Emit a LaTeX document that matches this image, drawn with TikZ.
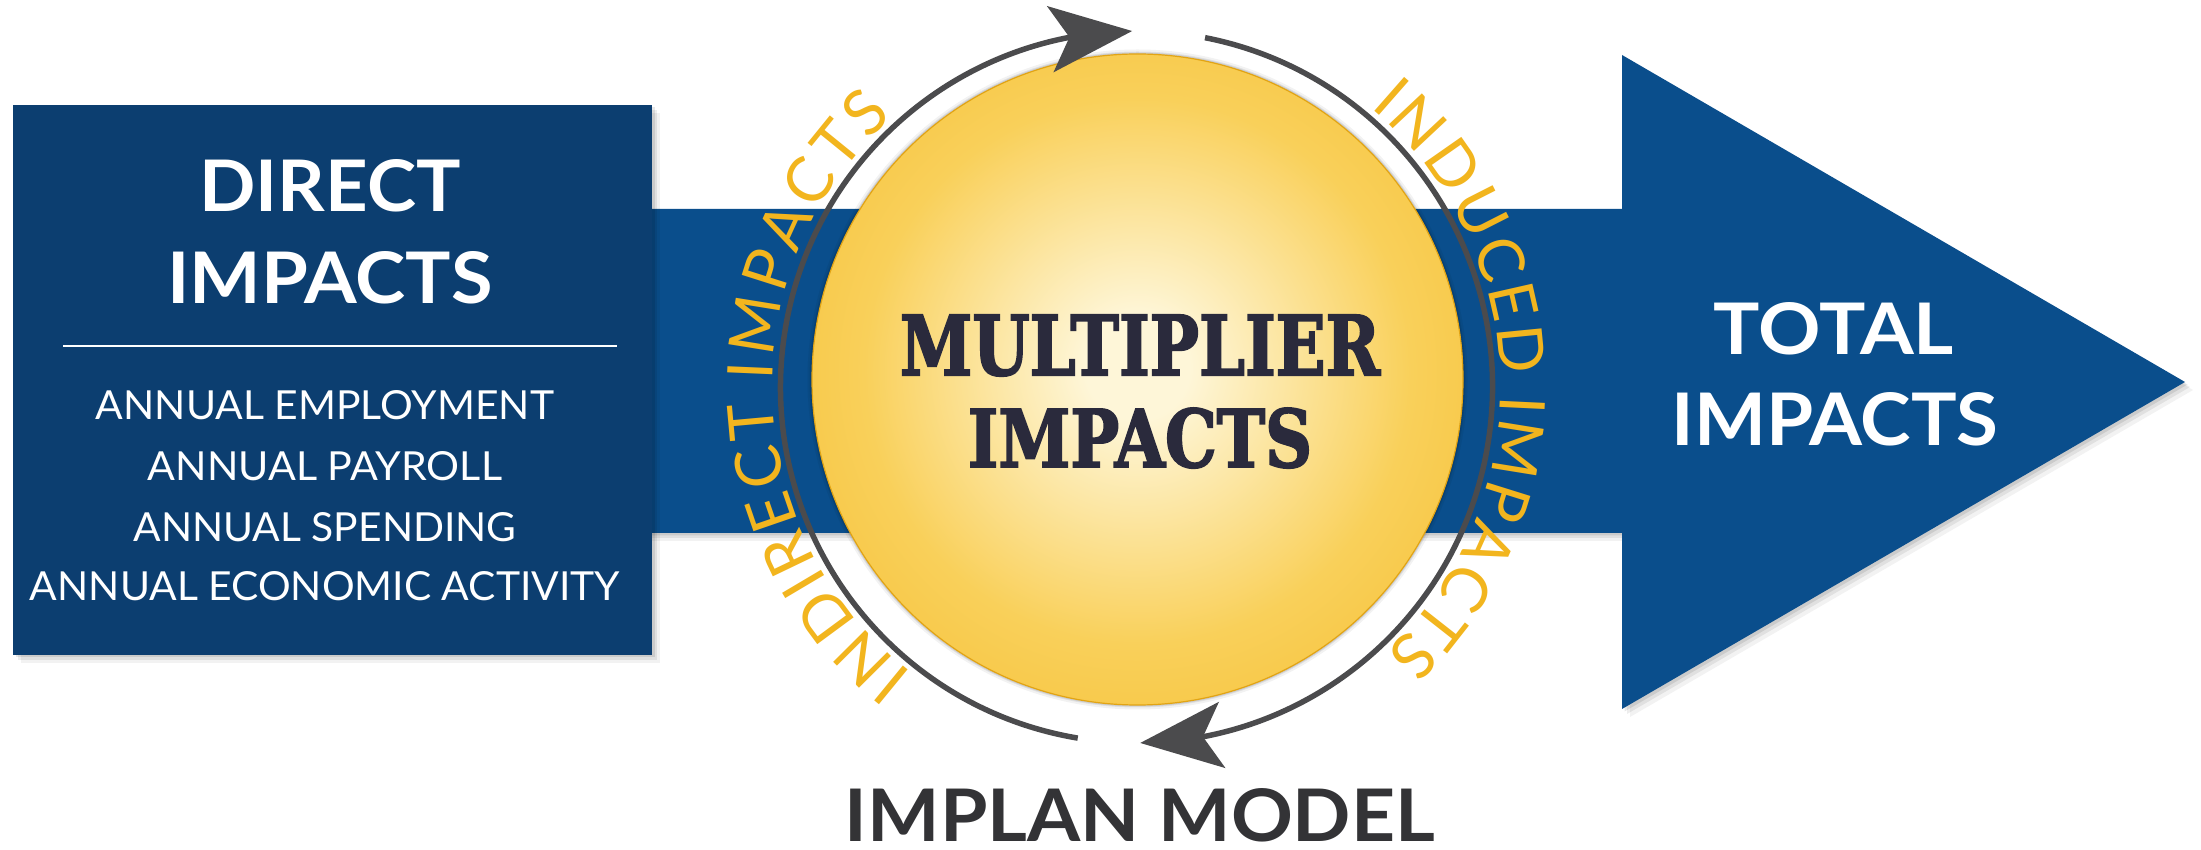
\documentclass[tikz,border=0pt]{standalone}
\usepackage{fontspec}
\newfontfamily\lato{Lato}
\newfontfamily\slab[BoldFeatures={FakeBold=2.5}]{DejaVu Serif}
\usetikzlibrary{arrows.meta,bending,decorations.text}
\definecolor{boxnavy}{HTML}{0C3E70}
\definecolor{arrowblue}{HTML}{0A4E8C}
\definecolor{ringgray}{HTML}{4B4B4D}
\definecolor{ringgold}{HTML}{F2B51E}
\definecolor{slabink}{HTML}{2A2A3C}
\definecolor{modelink}{HTML}{333336}
\definecolor{ballin}{HTML}{FEF6D8}
\definecolor{ballmid}{HTML}{F9D05A}
\definecolor{ballout}{HTML}{F4B824}
\definecolor{balledge}{HTML}{E2A414}
\pgfdeclareradialshading{ballshade}{\pgfpoint{0bp}{1bp}}{color(0bp)=(ballin); color(4bp)=(ballin); color(21bp)=(ballmid); color(40bp)=(ballout); color(62bp)=(ballout)}
\begin{document}
\begin{tikzpicture}[x=1pt,y=1pt,
  lbl/.style={inner sep=0pt, anchor=base},
  ringline/.style={draw=ringgray, line width=5.5pt},
  ringhead/.style={-{Stealth[length=82pt,width=66pt,inset=19pt]}},
  ringtext/.style={font={\lato\fontsize{63pt}{70pt}\selectfont}}]
\useasboundingbox (0,0) rectangle (2201,849);
\fill[white] (0,0) rectangle (2201,849);
\coordinate (ringc) at (1136.5,462);
\coordinate (ctr) at (1137.5,469.5);
% arrow shadow
\foreach \s/\o in {8/0.05,5/0.07,2.5/0.09}
  \fill[black,opacity=\o,xshift=\s pt,yshift=-\s pt] (640,316) -- (1622,316) -- (1622,140) -- (2185,467) -- (1622,794) -- (1622,640) -- (640,640) -- cycle;
% big arrow
\fill[arrowblue] (640,316) -- (1622,316) -- (1622,140) -- (2185,467) -- (1622,794) -- (1622,640) -- (640,640) -- cycle;
% box shadow
\foreach \s/\o in {8/0.05,5/0.07,2.5/0.09}
  \fill[black,opacity=\o,xshift=\s pt,yshift=-\s pt] (13,194) rectangle (652,744);
\node[fill=boxnavy, inner sep=0pt, minimum width=639pt, minimum height=550pt, anchor=south west] (direct) at (13,194) {};
% circle shadow
\foreach \s/\r/\o in {10/330/0.05,7/328/0.07,4/327/0.09}
  \fill[black,opacity=\o,xshift=0.6*\s pt,yshift=-\s pt] (ctr) circle[radius=\r];
\node[circle, inner sep=0pt, minimum size=651pt, shade, shading=ballshade, draw=balledge, line width=1.2pt] (mult) at (ctr) {};
% ring
\draw[ringline, ringhead] ([shift={(260.5:356)}]ringc) arc[start angle=260.5, end angle=90.7, radius=356];
\draw[ringline, ringhead] ([shift={(78.9:356)}]ringc) arc[start angle=78.9, end angle=-89.4, radius=356];
% ring texts
\path[ringtext, decoration={text effects along path, text={INDIRECT IMPACTS},
  text effects/.cd, text along path, fit text to path, characters={text=ringgold}}, decorate]
  ([shift={(232:364)}]ringc) arc[start angle=232, end angle=132, radius=364];
\path[ringtext, decoration={text effects along path, text={INDUCED IMPACTS},
  text effects/.cd, text along path, fit text to path, characters={text=ringgold}}, decorate]
  ([shift={(50.1:364)}]ringc) arc[start angle=50.1, end angle=-46.9, radius=364];
% direct impacts texts
\node[lbl, text=white] (dir1) at (330,637) {\resizebox{261pt}{52pt}{\lato\bfseries DIRECT}};
\node[lbl, text=white] (dir2) at (330,545) {\resizebox{325pt}{52pt}{\lato\bfseries IMPACTS}};
\coordinate (divL) at (63,503);
\coordinate (divR) at (617,503);
\draw[white, line width=2pt] (divL) -- (divR);
\node[lbl, text=white] (it1) at (325,429) {\resizebox{458pt}{29pt}{\lato ANNUAL EMPLOYMENT}};
\node[lbl, text=white] (it2) at (325,368) {\resizebox{354pt}{29pt}{\lato ANNUAL PAYROLL}};
\node[lbl, text=white] (it3) at (325,307) {\resizebox{383pt}{29pt}{\lato ANNUAL SPENDING}};
\node[lbl, text=white] (it4) at (325,248) {\resizebox{590pt}{29pt}{\lato ANNUAL ECONOMIC ACTIVITY}};
% multiplier
\node[lbl, text=slabink] (mul1) at (1140,474) {\resizebox{480pt}{60pt}{\slab\bfseries MULTIPLIER}};
\node[lbl, text=slabink] (mul2) at (1140,382) {\resizebox{344pt}{59pt}{\slab\bfseries IMPACTS}};
% total
\node[lbl, text=white] (tot1) at (1834,494) {\resizebox{240pt}{52pt}{\lato\bfseries TOTAL}};
\node[lbl, text=white] (tot2) at (1835,403) {\resizebox{327pt}{53pt}{\lato\bfseries IMPACTS}};
% model
\node[lbl, text=modelink] (model) at (1140,7) {\resizebox{590pt}{53pt}{\lato\bfseries IMPLAN MODEL}};
\end{tikzpicture}
\end{document}
